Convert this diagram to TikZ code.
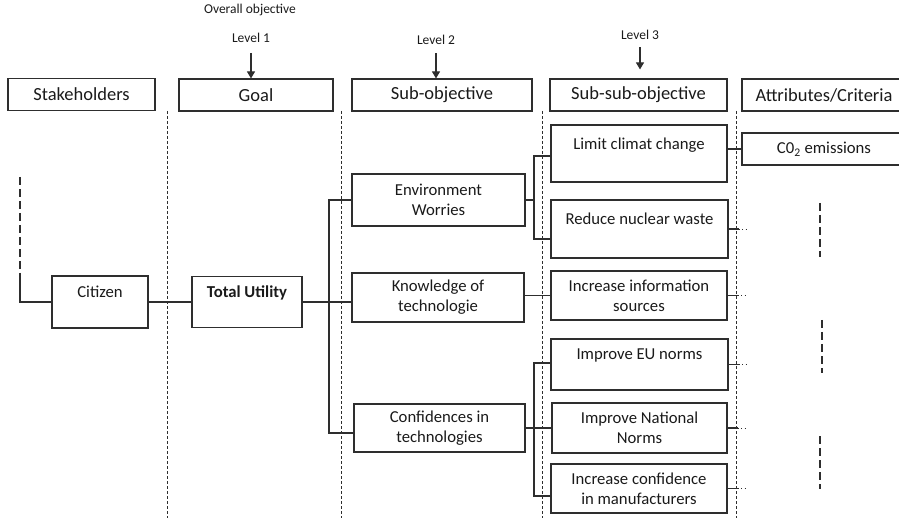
\documentclass[tikz,border=0pt]{standalone}
\usepackage{fontspec}
\setmainfont{Carlito}
\usepackage{tikz}
\usetikzlibrary{positioning, arrows.meta, calc}
\definecolor{dInk}{HTML}{1A1A1A}
\definecolor{dLine}{HTML}{2E2E2E}

\begin{document}
\begin{tikzpicture}[x=1pt, y=-1pt, >={Triangle[width=8pt,length=7pt]},
  hbox/.style={draw=dLine, line width=1.1pt, text=dInk, font=\fontsize{18.5}{20}\selectfont,
    minimum height=32pt, inner sep=0pt},
  cbox/.style={draw=dLine, line width=1.1pt, text=dInk, font=\fontsize{16.7}{20}\selectfont,
    align=center, inner sep=0pt},
  lvl/.style={text=dInk, font=\fontsize{13.5}{15}\selectfont, inner sep=0pt},
  sep/.style={dLine, line width=1pt, dash pattern=on 3pt off 2pt},
  gap/.style={dLine, line width=1.1pt, dash pattern=on 8pt off 4pt},
  link/.style={dLine, line width=1.1pt},
  dots/.style={dLine, line width=0.7pt, dash pattern=on 1pt off 2.5pt}]
  \clip (0,0) rectangle (899,518);

  % headers and levels
  \node[hbox, minimum width=147pt] (stake) at (81.5,94.5) {Stakeholders};
  \node[hbox, minimum width=154pt] (goal) at (256,95) {Goal};
  \node[hbox, minimum width=180pt] (subobj) at (442,95) {Sub-objective};
  \node[hbox, minimum width=177pt] (subsub) at (638.5,95) {Sub-sub-objective};
  \node[hbox, minimum width=164pt] (attr) at (824,95) {Attributes/Criteria};
  \node[lvl] (overall) at (250,10) {Overall objective};
  \node[lvl] (lvl1) at (251,38) {Level 1};
  \node[lvl] (lvl2) at (436,40) {Level 2};
  \node[lvl] (lvl3) at (640,35) {Level 3};
  \draw[link, ->] ([yshift=-10pt]lvl1.south) -- (lvl1.south |- goal.north);
  \draw[link, ->] ([yshift=-8.5pt]lvl2.south) -- (lvl2.south |- subobj.north);
  \draw[link, ->, shorten >=9pt] ([yshift=-7.5pt]lvl3.south) -- (lvl3.south |- subsub.north);

  % column separators
  \foreach \x in {167,341,542,736}
    \draw[sep] (\x,111) -- (\x,518);

  % boxes
  \node[cbox, minimum width=96pt, minimum height=52pt] (citizen) at (100,302) {Citizen\\~};
  \node[cbox, minimum width=110pt, minimum height=51pt] (total) at (247,302) {\textbf{Total Utility}\\~};
  \node[cbox, minimum width=173pt, minimum height=52pt] (env) at (438.5,200) {Environment\\Worries};
  \node[cbox, minimum width=172pt, minimum height=49pt] (know) at (438,297.5) {Knowledge of\\technologie};
  \node[cbox, minimum width=171pt, minimum height=48pt] (conf) at (439.5,428) {Confidences in\\technologies};
  \node[cbox, minimum width=176pt, minimum height=57pt] (climat) at (639,153.5) {Limit climat change\\~};
  \node[cbox, minimum width=177pt, minimum height=58pt] (waste) at (639.5,229) {Reduce nuclear waste\\~};
  \node[cbox, minimum width=176pt, minimum height=49pt] (info) at (639,295.5) {Increase information\\sources};
  \node[cbox, minimum width=177pt, minimum height=51pt] (eu) at (639.5,364.5) {Improve EU norms\\~};
  \node[cbox, minimum width=175pt, minimum height=50pt] (national) at (639.5,428) {Improve National\\Norms};
  \node[cbox, minimum width=176pt, minimum height=49pt] (manuf) at (639,488.5) {Increase confidence\\in manufacturers};
  \node[cbox, minimum width=164pt, minimum height=32pt] (co2) at (824,149) {C0\textsubscript{2} emissions};

  % stakeholders to goal
  \coordinate (stakeTop) at (20,177);
  \draw[gap] (stakeTop) -- ++(0,96) coordinate (stakeBend);
  \draw[link] (stakeBend) |- (citizen.west);
  \draw[link] (citizen) -- (total);

  % goal to sub-objectives
  \coordinate (busA) at (329,0);
  \coordinate (confIn) at ([yshift=-5pt]conf.west);
  \draw[link] (total) -- (total -| know.west);
  \draw[link] (env.west) -| (busA |- confIn) -- (confIn);

  % sub-objectives to sub-sub-objectives
  \coordinate (busB) at (534,0);
  \coordinate (climatIn) at ([yshift=-2.5pt]climat.west);
  \coordinate (wasteIn) at ([yshift=-10pt]waste.west);
  \coordinate (euIn) at ([yshift=1.5pt]eu.west);
  \coordinate (manufIn) at ([yshift=-7.5pt]manuf.west);
  \draw[link] (env.east) -- (env.east -| busB);
  \draw[link] (climatIn) -| (busB |- wasteIn) -- (wasteIn);
  \draw[link] (know.east |- info.west) -- (info.west);
  \draw[link] (conf.east) -- (national.west);
  \draw[link] (euIn) -| (busB |- manufIn) -- (manufIn);

  % attributes
  \draw[link] (climat.east |- co2.west) -- (co2.west);
  \foreach \n in {waste,info,eu,national,manuf} {
    \draw[link] (\n.east) -- ++(10,0) coordinate (\n-end);
    \draw[dots] (\n-end) -- ++(10,0);
  }
  \draw[gap] (820,203) -- (820,257);
  \draw[gap] (822,320) -- (822,373);
  \draw[gap] (820,436) -- (820,489);
\end{tikzpicture}
\end{document}
